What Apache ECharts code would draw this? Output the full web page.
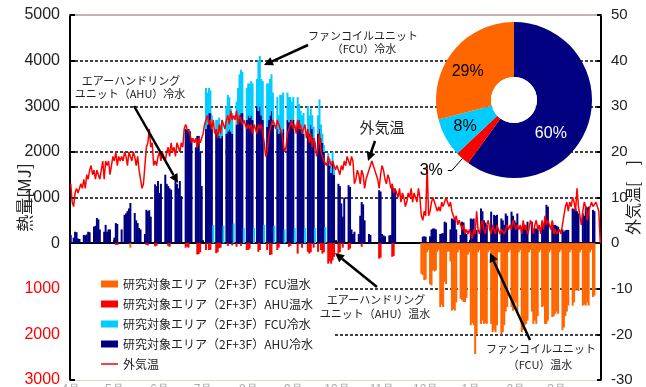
<!DOCTYPE html>
<html>
<head>
<meta charset="utf-8">
<script src="https://cdn.jsdelivr.net/npm/echarts@6/dist/echarts.min.js"></script>
<style>
html,body{margin:0;padding:0;background:#fff}
#main{width:646px;height:387px}
</style>
</head>
<body>
<div id="main"></div>
<script>
// 日別データ (4/1〜3/31, 1行 = 1週間 土日月火水木金)
var seriesNames = ['研究対象エリア（2F+3F）FCU温水', '研究対象エリア（2F+3F）AHU温水', '研究対象エリア（2F+3F）FCU冷水', '研究対象エリア（2F+3F）AHU冷水', '外気温'];

//AHU冷水 [MJ]
var ahuCool = [
	180,0,120,250,240,100,90,
	0,0,180,170,190,250,240,
	0,0,360,380,550,520,300,
	0,0,250,400,250,300,300,
	0,0,120,440,420,0,0,
	300,0,620,650,700,760,880,
	0,0,660,500,440,330,300,
	0,0,200,730,700,720,580,
	0,0,1290,1250,1360,1100,1300,
	0,0,1500,1300,1250,1200,1170,
	0,0,1360,1300,1200,1360,1030,
	0,0,2500,2480,2500,2450,2300,
	0,0,2100,2350,2350,2000,1250,
	0,0,2500,2600,2850,2850,2500,
	0,0,2450,2400,2350,2300,2350,
	0,0,2400,2450,2500,2450,2400,
	0,0,2600,2700,2800,2850,2850,
	0,0,2700,2800,2750,2800,2700,
	0,0,3000,2900,3000,2800,2700,
	0,0,2550,2700,2800,2900,2600,
	0,0,2500,2400,2450,2400,2500,
	0,0,2700,2650,2700,2600,2700,
	0,0,2650,2700,2500,2450,2400,
	0,0,2500,2400,2600,2500,2300,
	0,0,2400,2500,2300,2200,2000,
	0,0,1800,1700,1540,1800,1500,
	0,0,1300,1250,870,580,1000,
	0,0,1270,1230,300,200,250,
	0,0,200,600,900,850,500,
	0,0,200,180,0,0,0,
	0,0,1160,1130,200,170,150,
	0,0,170,180,1240,1200,1160,
	0,0,0,0,0,0,0,
	0,0,0,0,0,0,0,
	0,0,0,0,140,150,140,
	0,0,150,300,320,320,300,
	0,0,200,210,220,470,450,
	0,0,300,540,520,540,300,
	0,0,180,470,450,300,200,
	0,0,540,520,540,290,290,
	0,0,760,700,500,450,400,
	0,0,690,400,620,600,620,
	0,0,540,500,400,650,600,
	0,0,690,600,500,450,650,
	0,0,360,350,400,300,470,
	0,0,470,300,320,320,300,
	0,0,400,380,500,840,800,
	0,0,470,400,400,380,360,
	0,0,300,250,280,290,290,
	0,0,760,740,760,700,650,
	0,0,650,600,800,780,800,
	0,0,730,700,0,0,0,
	0
];

//FCU冷水 [MJ]
var fcuCool = [
	0,0,0,0,0,0,0,
	0,0,0,0,0,0,0,
	0,0,0,0,0,0,0,
	0,0,0,0,0,0,0,
	0,0,0,0,0,0,0,
	0,0,0,0,0,0,0,
	0,0,0,0,0,0,0,
	0,0,0,0,0,0,0,
	0,0,0,0,0,0,0,
	0,0,0,0,0,0,0,
	0,0,0,0,0,0,0,
	0,0,0,0,0,0,0,
	0,0,0,0,0,0,0,
	0,0,900,700,550,500,300,
	400,0,250,300,400,300,350,
	380,0,600,800,700,500,450,
	430,0,500,700,900,950,900,
	330,0,700,700,750,750,800,
	330,0,600,1100,1100,800,850,
	400,0,950,800,800,800,700,
	380,0,700,400,800,850,800,
	300,0,600,550,500,500,500,
	330,0,550,350,400,350,450,
	330,0,500,400,350,300,250,
	330,0,400,650,300,200,150,
	350,0,170,150,100,200,100,
	0,0,0,0,0,0,0,
	0,0,0,0,0,0,0,
	0,0,0,0,0,0,0,
	0,0,0,0,0,0,0,
	0,0,0,0,0,0,0,
	0,0,0,0,0,0,0,
	0,0,0,0,0,0,0,
	0,0,0,0,0,0,0,
	0,0,0,0,0,0,0,
	0,0,0,0,0,0,0,
	0,0,0,0,0,0,0,
	0,0,0,0,0,0,0,
	0,0,0,0,0,0,0,
	0,0,0,0,0,0,0,
	0,0,0,0,0,0,0,
	0,0,0,0,0,0,0,
	0,0,0,0,0,0,0,
	0,0,0,0,0,0,0,
	0,0,0,0,0,0,0,
	0,0,0,0,0,0,0,
	0,0,0,0,0,0,0,
	0,0,0,0,0,0,0,
	0,0,0,0,0,0,0,
	0,0,0,0,0,0,0,
	0,0,0,0,0,0,0,
	0,0,0,0,0,0,0,
	0
];

//AHU温水 [MJ] (マイナス表示)
var ahuHeat = [
	0,0,0,0,0,0,0,
	0,0,0,0,0,0,0,
	0,0,0,0,0,0,0,
	0,0,0,0,0,0,0,
	0,0,0,-40,-40,0,0,
	0,0,0,0,0,0,0,
	0,0,0,0,0,0,0,
	0,0,0,-40,-50,0,0,
	0,0,-70,-60,0,0,0,
	0,0,0,0,-60,-80,0,
	0,0,0,0,0,0,0,
	0,0,-100,-80,-100,0,0,
	0,0,0,-250,-240,-200,0,
	0,0,-150,0,-150,-150,0,
	0,0,-220,-200,-110,-100,0,
	0,0,0,-60,0,0,-50,
	0,0,-80,0,0,-60,0,
	0,0,-150,-150,-120,0,0,
	0,0,0,-190,-150,0,0,
	0,0,-150,0,-260,-250,0,
	0,0,-150,-100,0,0,0,
	0,0,0,-80,-60,0,0,
	0,0,-230,0,0,-100,0,
	0,0,-190,-230,-200,0,-100,
	0,0,-190,0,-150,-230,-200,
	0,0,-450,-400,-450,-380,-300,
	0,0,-230,-200,0,-100,0,
	0,0,-150,-120,0,0,0,
	0,0,0,0,-80,0,0,
	0,0,0,0,0,0,0,
	0,0,-340,-320,0,0,0,
	0,0,0,0,-300,-280,0,
	0,0,0,0,0,0,0,
	0,0,0,0,0,0,0,
	0,0,0,0,0,0,0,
	0,0,0,0,0,0,0,
	0,0,0,0,0,0,0,
	0,0,0,0,0,0,0,
	0,0,0,0,0,0,0,
	0,0,0,0,0,0,0,
	0,0,0,0,0,0,0,
	0,0,0,0,0,0,0,
	0,0,0,0,0,0,0,
	0,0,0,0,0,0,0,
	0,0,0,0,0,0,0,
	0,0,0,0,0,0,0,
	0,0,0,0,0,0,0,
	0,0,0,0,0,0,0,
	0,0,0,0,0,0,0,
	0,0,0,0,0,0,0,
	0,0,0,0,0,0,0,
	0,0,0,0,0,0,0,
	0
];

//FCU温水 [MJ] (マイナス表示)
var fcuHeat = [
	0,0,0,0,0,0,0,
	0,0,0,0,0,0,0,
	0,0,0,0,0,0,0,
	0,0,0,0,0,0,0,
	0,0,0,0,0,0,0,
	0,0,0,0,0,0,-100,
	0,0,0,0,0,0,0,
	0,0,0,0,0,0,0,
	0,0,0,0,0,0,0,
	0,0,0,0,0,0,0,
	0,0,0,0,0,0,0,
	0,0,0,0,0,0,0,
	0,0,0,0,0,0,0,
	0,0,0,0,0,0,0,
	0,0,0,0,0,0,0,
	0,0,0,0,0,0,0,
	0,0,0,0,0,0,0,
	0,0,0,0,0,0,0,
	0,0,0,0,0,0,0,
	0,0,0,0,0,0,0,
	0,0,0,0,0,0,0,
	0,0,0,0,0,0,0,
	0,0,0,0,0,0,0,
	0,0,0,0,0,0,0,
	0,0,0,0,0,0,0,
	0,0,0,0,0,0,0,
	0,0,0,0,0,0,0,
	0,0,0,0,0,0,0,
	0,0,0,0,0,0,0,
	0,0,0,0,0,0,0,
	0,0,0,0,0,0,0,
	0,0,0,0,0,0,0,
	0,0,0,0,0,0,0,
	0,0,0,0,0,0,0,
	0,0,0,-670,-700,-810,-800,
	-200,-150,-900,-930,-600,-620,-600,
	-190,-150,-1400,-1350,-1400,-850,-900,
	-190,-180,-400,-1480,-1450,-1480,-1300,
	-200,-150,-1220,-1250,-1290,-1290,-1200,
	-250,-200,-1800,-1750,-1800,-2430,-2000,
	-200,-150,-1770,-1700,-1770,-1750,-1770,
	-200,-150,-1770,-1950,-1900,-1950,-1800,
	-200,-200,-2000,-1950,-1800,-1500,-1400,
	-200,-150,-1400,-1480,-1450,-1300,-1500,
	-200,-150,-1950,-1900,-1800,-1770,-1700,
	-200,-150,-1500,-1770,-1700,-1770,-1600,
	-200,-150,-1400,-1380,-1770,-1770,-1700,
	-200,-150,-1620,-1600,-1550,-1500,-1550,
	-200,-150,-1910,-1850,-1600,-1500,-1370,
	-200,-150,-1370,-1300,-1040,-1000,-1050,
	-200,-150,-1370,-1350,-1370,-1300,-1370,
	-200,-150,-1180,-1150,0,0,0,
	0
];

//外気温 [℃]
var temp = [
	13,9,8,11,12,11,12,
	13,12,14,12,15,14,16,
	17,15,16,14,16,15,14,
	16,18,14,18,17,18,15,
	17,19,18,20,17,19,18,
	19,18,20,19,17,20,19,
	18,20,19,17,19,16,14,
	12,13,17,21,22,25,21,
	22,17,18,17,19,20,18,
	20,19,18,20,21,19,22,
	20,21,19,22,21,20,22,
	21,25,26,25,25,24,22,
	23,22,23,21,23,22,23,
	24,26,27,28,26,27,25,
	27,24,25,23,26,24,27,
	26,25,27,28,26,29,27,
	28,27,29,26,28,27,26,
	27,26,25,26,25,26,24,
	26,25,24,26,25,26,24,
	22,19,20,23,25,26,27,
	26,25,27,26,25,24,22,
	20,21,24,25,26,27,25,
	26,24,27,25,26,24,25,
	26,23,25,22,24,21,23,
	22,19,21,24,20,19,18,
	18,17,19,18,17,18,17,
	16,17,16,15,17,16,18,
	17,19,18,17,19,18,13,
	14,16,15,13,16,15,12,
	14,15,16,17,18,17,16,
	15,14,12,15,17,16,14,
	13,15,14,12,13,11,12,
	11,10,12,9,11,10,8,
	9,11,10,12,9,11,10,
	9,12,10,6,5,7,6,
	17,6,7,9,10,9,8,
	7,8,7,9,8,9,10,
	9,8,9,7,6,5,6,
	4,5,4,3,4,2,3,
	2,3,2,1,3,2,7,
	3,2,4,5,3,2,4,
	5,3,2,4,3,2,4,
	3,2,3,3,2,3,4,
	3,4,3,5,4,3,4,
	3,4,2,5,3,4,2,
	3,5,4,2,4,5,3,
	4,2,5,3,6,4,5,
	4,3,5,2,3,2,2,
	3,2,4,6,8,9,7,
	9,8,10,9,7,12,8,
	6,4,7,9,8,5,7,
	8,9,8,8,9,8,7,
	0
];

//月初めの位置 (目盛)
var monthStarts = [0, 30, 61, 91, 122, 153, 183, 214, 244, 275, 306, 334];
var monthLabels = ['4月', '5月', '6月', '7月', '8月', '9月', '10月', '11月', '12月', '1月', '2月', '3月'];

//円グラフ (年間比率)
var pieNames = ['AHU冷水', 'AHU温水', 'FCU冷水', 'FCU温水'];
var pieValues = [60, 3, 8, 29];

var numFont = '"Liberation Sans", Arial, sans-serif';
var narrowFont = '"Liberation Sans Narrow", "Arial Narrow", "Liberation Sans", sans-serif';
var jpFont = '"Noto Sans CJK JP", sans-serif';

var days = [];
for(var i = 0; i < temp.length; i++) {
	days.push('d' + i);
}

function isMonthStart(i) {
	return monthStarts.indexOf(i) >= 0;
}

var chart = echarts.init(document.getElementById('main'));

//円グラフのラベル
var pieColors = ['#000080', '#ff0000', '#00ccff', '#ff6600'];
var pieLabel = [
	{ position: 'inside', color: '#fff', offset: [-14, 17] },
	{ position: 'outside', color: '#000' },
	{ position: 'inside', color: '#000', offset: [-2, 1] },
	{ position: 'inside', color: '#000', offset: [-4, 4] }
];
var pieData = [];
for(var i = 0; i < pieValues.length; i++) {
	pieData.push({
		name: pieNames[i],
		value: pieValues[i],
		itemStyle: { color: pieColors[i] },
		label: pieLabel[i],
		labelLine: { show: i == 1 }
	});
}

//凡例 (外気温は線のみ)
var legendData = [];
for(var i = 0; i < seriesNames.length; i++) {
	if(i == 4) {
		legendData.push({
			name: seriesNames[i],
			icon: 'path://M0,0L0.01,0L0,0.01Z M17,7L16.99,7L17,6.99Z M0,2.7L17,2.7L17,4.3L0,4.3Z'
		});
	} else {
		legendData.push({ name: seriesNames[i], icon: 'rect' });
	}
}

//注釈 (矢印)
function arrow(x1, y1, x2, y2) {
	var dx = x2 - x1, dy = y2 - y1;
	var len = Math.sqrt(dx * dx + dy * dy);
	var ux = dx / len, uy = dy / len;
	var bx = x2 - ux * 9, by = y2 - uy * 9;
	return [{
		type: 'line', z: 100,
		shape: { x1: x1, y1: y1, x2: bx, y2: by },
		style: { stroke: '#000', lineWidth: 2.5 }
	}, {
		type: 'polygon', z: 100,
		shape: { points: [[x2, y2], [bx - uy * 4.5, by + ux * 4.5], [bx + uy * 4.5, by - ux * 4.5]] },
		style: { fill: '#000' }
	}];
}
function note(text, x, y, size) {
	return {
		type: 'text', z: 100,
		style: { text: text, x: x, y: y, fill: '#222', font: (size || 11) + 'px ' + jpFont, align: 'center', verticalAlign: 'middle' }
	};
}
var graphics = [].concat(
	arrow(308, 45, 264, 65),
	arrow(134, 106, 178, 183),
	arrow(375, 141, 368, 161),
	arrow(377, 287, 335, 253),
	arrow(530, 340, 490, 253),
	[
		note('ファンコイルユニット', 363, 36),
		note('（FCU）冷水', 364, 49),
		note('エアーハンドリング', 131, 81),
		note('ユニット（AHU）冷水', 130, 94),
		note('外気温', 382, 127, 15),
		note('エアーハンドリング', 376, 300),
		note('ユニット（AHU）温水', 375, 314),
		note('ファンコイルユニット', 541, 349),
		note('（FCU）温水', 540, 365)
	]
);

var option = {
	animation: false,
	backgroundColor: '#fff',
	grid: { left: 70, right: 45, top: 15, bottom: 7, outerBoundsMode: 'none', containLabel: false },
	legend: {
		data: legendData,
		orient: 'vertical',
		left: 71,
		top: 267,
		padding: [10, 22, 8, 30],
		backgroundColor: '#fff',
		itemWidth: 17,
		itemHeight: 7,
		itemGap: 6,
		selectedMode: false,
		textStyle: { fontFamily: jpFont, fontSize: 12, color: '#222', lineHeight: 14 }
	},
	xAxis: [{
		type: 'category',
		data: days,
		position: 'bottom',
		boundaryGap: true,
		axisLine: { onZero: true, lineStyle: { color: '#000', width: 2 } },
		axisTick: { show: true, inside: true, length: 3, interval: isMonthStart, lineStyle: { color: '#000', width: 2 } },
		axisLabel: { show: false },
		splitLine: { show: false }
	}, {
		type: 'category',
		data: days,
		position: 'bottom',
		boundaryGap: true,
		axisLine: { onZero: false, lineStyle: { color: '#f0d4ca', width: 1 } },
		axisTick: { show: false },
		axisLabel: {
			show: true, interval: isMonthStart, margin: 4, color: '#aaa', fontSize: 12, fontFamily: numFont,
			formatter: function(v, i) {
				return monthLabels[monthStarts.indexOf(i)] || '';
			}
		},
		splitLine: { show: false }
	}, {
		type: 'category',
		data: days,
		position: 'top',
		axisLine: { onZero: false, lineStyle: { color: '#b09a8c', width: 1.5 } },
		axisTick: { show: false },
		axisLabel: { show: false },
		splitLine: { show: false }
	}],
	yAxis: [{
		type: 'value',
		position: 'left',
		min: -3000,
		max: 5000,
		interval: 1000,
		name: '熱量[MJ]',
		nameLocation: 'middle',
		nameGap: 37,
		nameRotate: 90,
		nameMoveOverlap: false,
		nameTextStyle: { fontFamily: jpFont, fontSize: 17, color: '#222' },
		axisLine: { show: true, lineStyle: { color: '#000', width: 2 } },
		axisTick: { show: true, inside: true, length: 5, lineStyle: { color: '#000', width: 2 } },
		axisLabel: {
			fontFamily: numFont, fontSize: 16, margin: 10,
			formatter: function(v) { return Math.abs(v); },
			color: function(v) { return Number(v) < 0 ? '#ff0000' : '#222'; }
		},
		splitLine: { show: true, showMinLine: false, showMaxLine: false, lineStyle: { color: '#000', type: [3, 2], width: 1.5 } }
	}, {
		type: 'value',
		position: 'right',
		min: -30,
		max: 50,
		interval: 10,
		name: '外気温[　]',
		nameLocation: 'middle',
		nameGap: 24,
		nameRotate: 90,
		nameMoveOverlap: false,
		nameTextStyle: { fontFamily: jpFont, fontSize: 16, color: '#222' },
		axisLine: { show: true, lineStyle: { color: '#000', width: 2 } },
		axisTick: { show: true, inside: true, length: 4, lineStyle: { color: '#000', width: 2 } },
		axisLabel: { fontFamily: narrowFont, fontSize: 15, margin: 10, color: '#222' },
		splitLine: { show: false }
	}],
	series: [{
		name: seriesNames[3], type: 'bar', stack: 'mj', data: ahuCool,
		barWidth: 2, itemStyle: { color: '#000080' }
	}, {
		name: seriesNames[2], type: 'bar', stack: 'mj', data: fcuCool,
		barWidth: 2, itemStyle: { color: '#00ccff' }
	}, {
		name: seriesNames[1], type: 'bar', stack: 'mj', data: ahuHeat,
		barWidth: 2, itemStyle: { color: '#ff0000' }
	}, {
		name: seriesNames[0], type: 'bar', stack: 'mj', data: fcuHeat,
		barWidth: 2, itemStyle: { color: '#ff6600' }
	}, {
		name: seriesNames[4], type: 'line', yAxisIndex: 1, data: temp,
		symbol: 'none', z: 5,
		lineStyle: { color: '#ff0000', width: 1.5 },
		itemStyle: { color: '#ff0000' }
	}, {
		type: 'pie', silent: true, z: 10,
		center: [514, 100], radius: [23, 78],
		startAngle: 90, clockwise: true,
		avoidLabelOverlap: false,
		label: { formatter: '{d}%', fontFamily: narrowFont, fontSize: 16 },
		labelLine: { length: 16, length2: 4, lineStyle: { color: '#000', width: 1 } },
		data: pieData
	}, {
		type: 'pie', silent: true, z: 10,
		center: [514, 100], radius: [0, 23],
		label: { show: false }, labelLine: { show: false },
		data: [{ name: '', value: 1, itemStyle: { color: '#fff' } }]
	}],
	graphic: graphics
};
chart.setOption(option);
</script>
</body>
</html>
